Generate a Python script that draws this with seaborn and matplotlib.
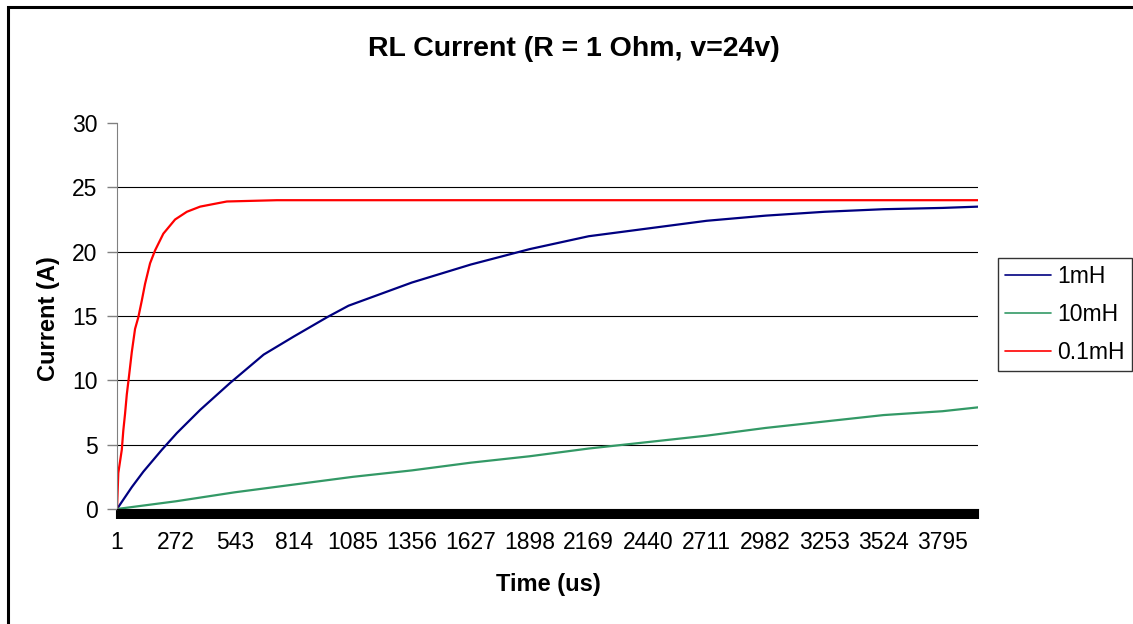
import numpy as np
import pandas as pd
import matplotlib
matplotlib.use("Agg")
import matplotlib.pyplot as plt
import seaborn as sns
from matplotlib.ticker import MultipleLocator
from matplotlib.patches import Rectangle

# ---- data (time in us, current in A) ----
t_red = [1, 7, 23, 30, 38, 46, 56, 69, 84, 99, 115, 130, 153, 176, 214, 268,
         322, 383, 444, 506, 736, 3958]
i_red = [0, 2.8, 4.6, 6.1, 7.4, 8.9, 10.3, 12.2, 14.0, 14.9, 16.2, 17.5, 19.1,
         20.1, 21.4, 22.5, 23.1, 23.5, 23.7, 23.9, 24.0, 24.0]

t_blue = [1, 69, 122, 207, 276, 383, 521, 598, 675, 813, 966, 1065, 1356, 1627,
          1898, 2169, 2440, 2711, 2982, 3253, 3524, 3795, 3958]
i_blue = [0, 1.7, 2.9, 4.6, 5.9, 7.7, 9.8, 10.9, 12.0, 13.4, 14.9, 15.8, 17.6,
          19.0, 20.2, 21.2, 21.8, 22.4, 22.8, 23.1, 23.3, 23.4, 23.5]

t_green = [1, 272, 543, 814, 1085, 1356, 1627, 1898, 2169, 2440, 2711, 2982,
           3253, 3524, 3795, 3958]
i_green = [0, 0.6, 1.3, 1.9, 2.5, 3.0, 3.6, 4.1, 4.7, 5.2, 5.7, 6.3, 6.8, 7.3,
           7.6, 7.9]

series_names = ["1mH", "10mH", "0.1mH"]
x_ticks = [1, 272, 543, 814, 1085, 1356, 1627, 1898, 2169, 2440, 2711, 2982,
           3253, 3524, 3795]
t_end = 3958

df = pd.concat([
    pd.DataFrame({"Time": t_blue, "Current": i_blue, "L": "1mH"}),
    pd.DataFrame({"Time": t_green, "Current": i_green, "L": "10mH"}),
    pd.DataFrame({"Time": t_red, "Current": i_red, "L": "0.1mH"}),
])

sns.set_style("white")
plt.rcParams["font.family"] = ["Liberation Sans", "DejaVu Sans"]
plt.rcParams["text.color"] = "black"
plt.rcParams["xtick.color"] = "black"
plt.rcParams["ytick.color"] = "black"

W, H = 1133, 624
fig = plt.figure(figsize=(W / 100, H / 100), dpi=100)
ax = fig.add_axes([117 / W, 1 - 509 / H, (978 - 117) / W, (509 - 123) / H])

colors = {"1mH": "#000080", "10mH": "#339966", "0.1mH": "#FF0000"}
sns.lineplot(data=df, x="Time", y="Current", hue="L", hue_order=series_names,
             palette=colors, estimator=None, sort=False, linewidth=1.6, ax=ax,
             legend=True)

ax.set_xlim(1, t_end)
ax.set_ylim(0, 30)
ax.set_xticks(x_ticks)
ax.set_xticklabels([str(v) for v in x_ticks])
ax.xaxis.set_minor_locator(MultipleLocator(4))
ax.set_yticks(range(0, 31, 5))

# horizontal gridlines (none at the top)
ax.yaxis.grid(True, color="black", linewidth=0.8)
ax.set_axisbelow(True)
for gl, v in zip(ax.yaxis.get_gridlines(), range(0, 31, 5)):
    if v in (0, 30):
        gl.set_visible(False)

for s in ["top", "right"]:
    ax.spines[s].set_visible(False)
ax.spines["left"].set_color("#808080")
ax.spines["bottom"].set_color("black")
ax.tick_params(axis="y", direction="out", length=7, width=1, color="#808080",
               labelcolor="black", labelsize=16.5, pad=7, left=True)
ax.tick_params(axis="x", which="both", direction="out", length=7, width=1.5,
               color="black", labelcolor="black", labelsize=16.5, pad=9,
               bottom=True)
ax.set_xlabel("")
ax.set_ylabel("")

# legend
handles, labels = ax.get_legend_handles_labels()
ax.get_legend().remove()
leg = fig.legend(handles, labels, loc="upper left",
                 bbox_to_anchor=(998 / W, 1 - 258 / H), frameon=True,
                 fancybox=False, edgecolor="black", fontsize=16.5,
                 handlelength=2.0, handletextpad=0.3, borderaxespad=0,
                 borderpad=0.3, labelspacing=0.65)
leg.get_frame().set_linewidth(1.0)
for ln in leg.get_lines():
    ln.set_linewidth(1.2)

fig.text(574 / W, 1 - 49 / H, "RL Current (R = 1 Ohm, v=24v)", ha="center",
         va="center", fontsize=20.5, fontweight="bold")
fig.text(548 / W, 1 - 585 / H, "Time (us)", ha="center", va="center",
         fontsize=17, fontweight="bold")
fig.text(49 / W, 1 - 319 / H, "Current (A)", ha="center", va="center",
         rotation=90, fontsize=17, fontweight="bold")

# chart border
fig.patches.append(Rectangle((8 / W, -0.05), 1.1, 1 - 7 / H + 0.05,
                             transform=fig.transFigure, fill=False,
                             edgecolor="black", linewidth=2.2))

fig.savefig("out.png", dpi=100)
